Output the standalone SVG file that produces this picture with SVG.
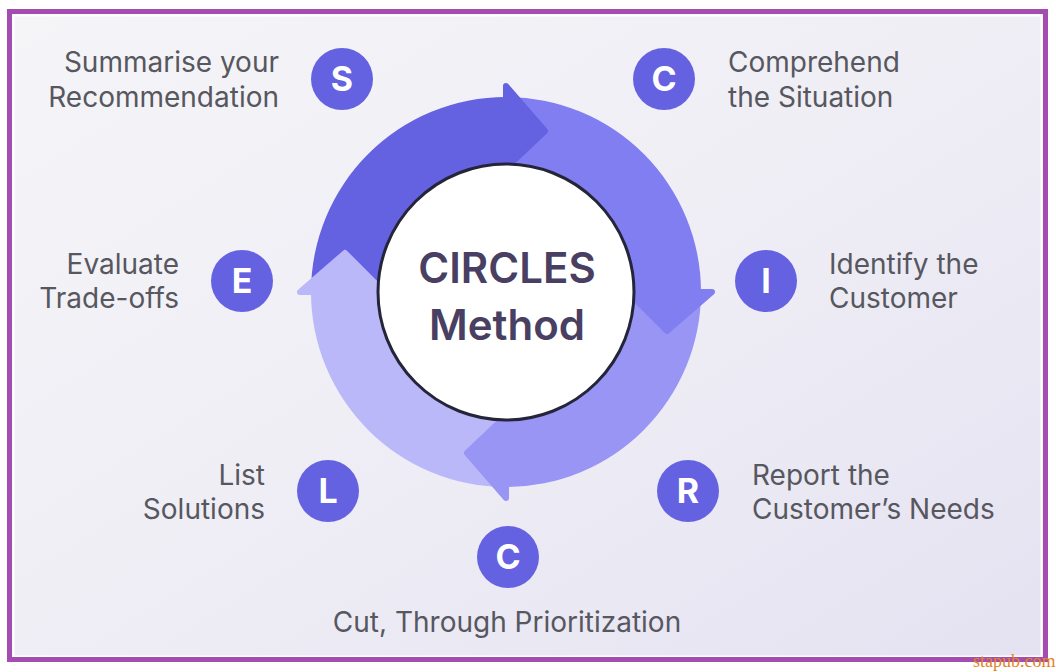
<svg xmlns="http://www.w3.org/2000/svg" width="1056" height="672" viewBox="0 0 1056 672">
  <defs>
    <linearGradient id="bg" x1="0" y1="0" x2="1" y2="1">
      <stop offset="0" stop-color="#f5f5f8"/>
      <stop offset="0.55" stop-color="#eeedf5"/>
      <stop offset="1" stop-color="#e4e2f1"/>
    </linearGradient>
    <style>
      .lbl { font-family: Inter, "Liberation Sans", sans-serif; font-size: 28px; fill: #57575f; }
      .r { text-anchor: end; }
      .m { text-anchor: middle; }
      .dot { fill: #6462e1; }
      .let { font-family: Inter, "Liberation Sans", sans-serif; font-size: 34px; font-weight: 700; fill: #ffffff; text-anchor: middle; }
      .ctr { font-family: Inter, "Liberation Sans", sans-serif; font-size: 42px; font-weight: 600; fill: #483f62; text-anchor: middle; }
      .head { stroke-linejoin: round; stroke-width: 6; }
      .s1 { fill: #6462e1; stroke: #6462e1; }
      .s2 { fill: #807ef1; stroke: #807ef1; }
      .s3 { fill: #9895f5; stroke: #9895f5; }
      .s4 { fill: #bbb8fa; stroke: #bbb8fa; }
      .body { stroke: none; }
    </style>
  </defs>

  <rect x="0" y="0" width="1056" height="672" fill="#ffffff"/>
  <rect x="12" y="14" width="1031" height="644" fill="url(#bg)"/>
  <rect x="13.5" y="15.5" width="1028" height="641" fill="none" stroke="#ffffff" stroke-width="2"/>
  <rect x="9.5" y="11.5" width="1036" height="648" fill="none" stroke="#a44db1" stroke-width="5"/>

  <g id="connectors">
    <path class="body s1" d="M 311 292 A 195 195 0 0 1 506 97 L 506 172 A 120 120 0 0 0 386 292 Z"/>
    <path class="body s2" d="M 506 97 A 195 195 0 0 1 701 292 L 626 292 A 120 120 0 0 0 506 172 Z"/>
    <path class="body s3" d="M 701 292 A 195 195 0 0 1 506 487 L 506 412 A 120 120 0 0 0 626 292 Z"/>
    <path class="body s4" d="M 506 487 A 195 195 0 0 1 311 292 L 386 292 A 120 120 0 0 0 506 412 Z"/>
    <polygon class="head s1" points="506,86 545,131 506,168"/>
    <polygon class="head s2" points="712,292 667,331 628,292"/>
    <polygon class="head s3" points="506,498 467,453 506,416"/>
    <polygon class="head s4" points="300,292 345,253 384,292"/>
  </g>

  <g id="center">
    <circle cx="506" cy="292" r="128" fill="#ffffff" stroke="#25253a" stroke-width="3"/>
    <text class="ctr" x="507" y="283">CIRCLES</text>
    <text class="ctr" x="507" y="340">Method</text>
  </g>

  <g id="step-s">
    <circle class="dot" cx="342" cy="79" r="31"/>
    <text class="let" x="342" y="91">S</text>
    <text class="lbl r" x="279" y="72">Summarise your</text>
    <text class="lbl r" x="279" y="107">Recommendation</text>
  </g>

  <g id="step-c1">
    <circle class="dot" cx="664" cy="79" r="31"/>
    <text class="let" x="664" y="91">C</text>
    <text class="lbl" x="728" y="72">Comprehend</text>
    <text class="lbl" x="728" y="107">the Situation</text>
  </g>

  <g id="step-e">
    <circle class="dot" cx="242" cy="281" r="31"/>
    <text class="let" x="242" y="293">E</text>
    <text class="lbl r" x="179" y="274">Evaluate</text>
    <text class="lbl r" x="179" y="308">Trade-offs</text>
  </g>

  <g id="step-i">
    <circle class="dot" cx="766" cy="281" r="31"/>
    <text class="let" x="766" y="293">I</text>
    <text class="lbl" x="829" y="274">Identify the</text>
    <text class="lbl" x="829" y="308">Customer</text>
  </g>

  <g id="step-l">
    <circle class="dot" cx="328" cy="491" r="31"/>
    <text class="let" x="328" y="503">L</text>
    <text class="lbl r" x="265" y="485">List</text>
    <text class="lbl r" x="265" y="519">Solutions</text>
  </g>

  <g id="step-r">
    <circle class="dot" cx="688" cy="491" r="31"/>
    <text class="let" x="688" y="503">R</text>
    <text class="lbl" x="752" y="485">Report the</text>
    <text class="lbl" x="752" y="519">Customer’s Needs</text>
  </g>

  <g id="step-c2">
    <circle class="dot" cx="508" cy="557" r="31"/>
    <text class="let" x="508" y="569">C</text>
    <text class="lbl m" x="507" y="632">Cut, Through Prioritization</text>
  </g>

  <text x="973" y="667" font-family="'Liberation Serif', serif" font-size="18" fill="#e5821f">stapub.com</text>
</svg>
